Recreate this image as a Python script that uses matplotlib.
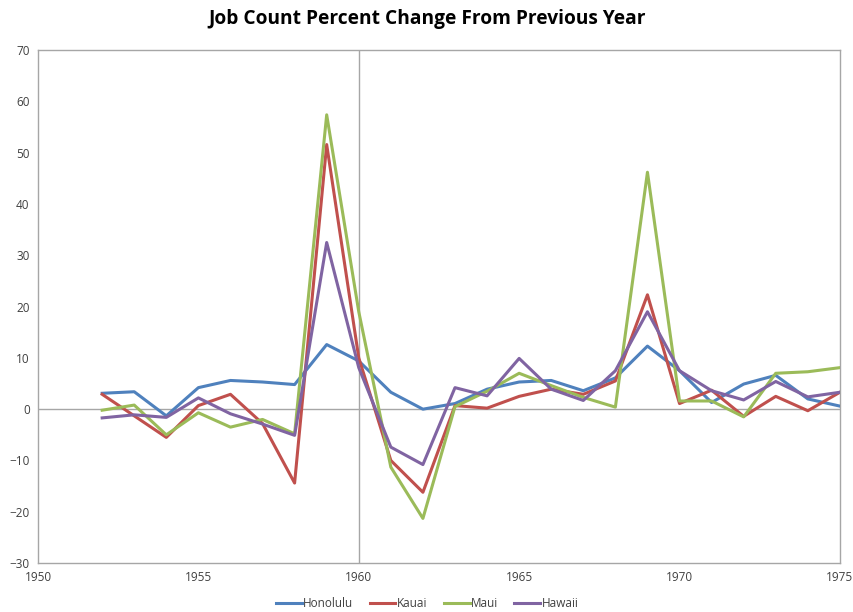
import matplotlib
matplotlib.use("Agg")
import matplotlib.pyplot as plt

# Data
years = list(range(1952, 1976))

honolulu = [3.1, 3.4, -1.3, 4.2, 5.6, 5.3, 4.8, 12.6, 9.4, 3.3, 0.0, 1.1,
            3.9, 5.3, 5.6, 3.6, 6.1, 12.3, 7.5, 1.3, 4.9, 6.6, 2.0, 0.6]
kauai = [2.9, -1.3, -5.5, 0.7, 2.9, -2.8, -14.4, 51.6, 10.0, -10.0, -16.2, 0.7,
         0.2, 2.5, 3.9, 2.9, 5.5, 22.3, 1.1, 3.7, -1.4, 2.5, -0.3, 3.3]
maui = [-0.2, 0.8, -5.0, -0.7, -3.5, -2.0, -4.8, 57.4, 19.0, -11.3, -21.3, 0.5,
        3.5, 7.0, 4.6, 2.3, 0.4, 46.2, 1.6, 1.6, -1.5, 7.0, 7.3, 8.1]
hawaii = [-1.7, -1.1, -1.6, 2.2, -0.9, -2.9, -5.1, 32.5, 8.1, -7.4, -10.8, 4.2,
          2.6, 9.9, 3.9, 1.7, 7.5, 19.0, 7.5, 3.6, 1.8, 5.4, 2.4, 3.3]

series_names = ["Honolulu", "Kauai", "Maui", "Hawaii"]
series_colors = ["#4F81BD", "#C0504D", "#9BBB59", "#8064A2"]

x_ticks = [1950, 1955, 1960, 1965, 1970, 1975]
y_ticks = list(range(-30, 71, 10))

plt.rcParams["font.family"] = ["Open Sans", "DejaVu Sans"]

fig = plt.figure(figsize=(8.54, 6.12), dpi=100)
ax = fig.add_axes([0.0445, 0.080, 0.939, 0.838])

grid_color = "#A6A6A6"
ax.axhline(0, color=grid_color, lw=1.0, zorder=1)
ax.axvline(1960, color=grid_color, lw=1.0, zorder=1)

for vals, name, col in zip([honolulu, kauai, maui, hawaii], series_names, series_colors):
    ax.plot(years, vals, color=col, lw=2.2, label=name, zorder=3)

ax.set_xlim(1950, 1975)
ax.set_ylim(-30, 70)
ax.set_xticks(x_ticks)
ax.set_yticks(y_ticks)
ax.tick_params(length=0, labelsize=8.5, colors="#404040", pad=6)
for s in ax.spines.values():
    s.set_color(grid_color)
    s.set_linewidth(1.0)

fig.suptitle("Job Count Percent Change From Previous Year", fontsize=13.8,
             fontweight="bold", y=0.985, color="black")

leg = fig.legend(loc="lower center", ncol=4, frameon=False, fontsize=8.5,
                 bbox_to_anchor=(0.5, -0.014), handlelength=2.2, handletextpad=0.1,
                 columnspacing=1.4)
for t in leg.get_texts():
    t.set_color("#404040")

fig.savefig("out.png", dpi=100, facecolor="white")
